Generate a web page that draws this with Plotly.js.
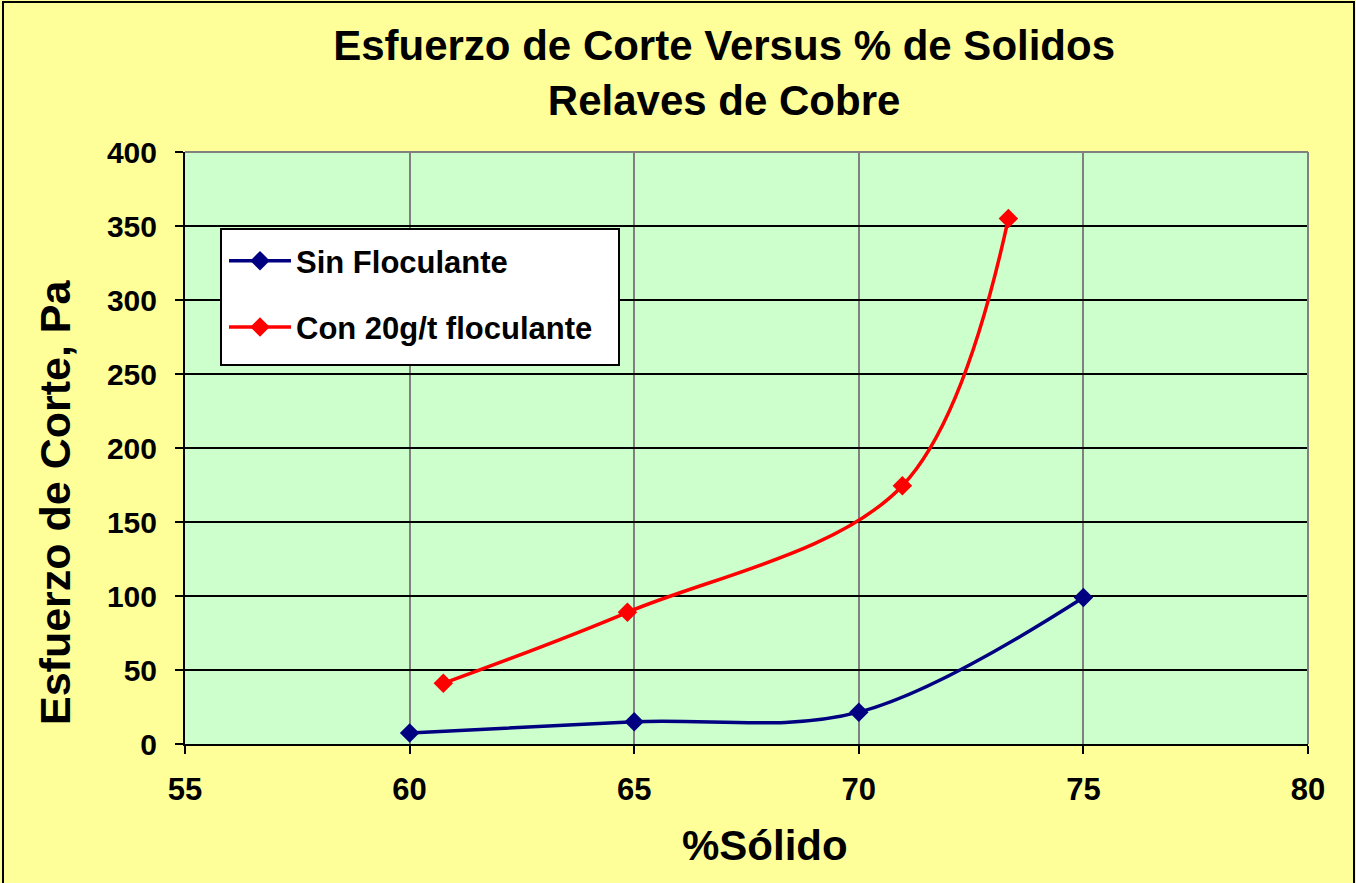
<!DOCTYPE html>
<html>
<head>
<meta charset="utf-8">
<script src="https://cdn.plot.ly/plotly-3.0.1.min.js"></script>
<style>
html,body{margin:0;padding:0;background:#FFFF99;}
#wrap{position:relative;width:1356px;height:883px;overflow:hidden;}
#chart{position:absolute;left:0;top:0;width:1356px;height:883px;}
#frame{position:absolute;left:2px;top:1px;width:1349px;height:890px;border:2px solid #000;pointer-events:none;}
</style>
</head>
<body>
<div id="wrap"><div id="chart"></div><div id="frame"></div></div>
<script>
const sinX = [60, 65, 70, 75];
const sinY = [7.5, 15, 21.5, 99];
const conX = [60.75, 64.85, 70.97, 73.33];
const conY = [41, 89, 174.5, 355];
const xTicks = [55, 60, 65, 70, 75, 80];
const yTicks = [0, 50, 100, 150, 200, 250, 300, 350, 400];

const F = 'Liberation Sans, Arial, sans-serif';

const traces = [
  {x: sinX, y: sinY, name: 'Sin Floculante', type: 'scatter', mode: 'lines+markers',
   line: {color: '#000080', width: 3.5, shape: 'spline', smoothing: 1},
   marker: {symbol: 'diamond', size: 15, color: '#000080'}, legendgroup: 'a'},
  {x: conX, y: conY, name: 'Con 20g/t floculante', type: 'scatter', mode: 'lines+markers',
   line: {color: '#FF0000', width: 3.5, shape: 'spline', smoothing: 1},
   marker: {symbol: 'diamond', size: 15, color: '#FF0000'}, legendgroup: 'b'}
];

const layout = {
  width: 1356, height: 883,
  paper_bgcolor: '#FFFF99', plot_bgcolor: '#CCFFCC',
  margin: {l: 185, r: 48, t: 152, b: 139},
  font: {family: F, color: '#000'},
  title: {text: '<b>Esfuerzo de Corte Versus % de Solidos<br>Relaves de Cobre</b>',
          font: {family: F, size: 42, color: '#000'}, x: 0.534, xanchor: 'center', yref: 'container', y: 0.932, yanchor: 'top'},
  xaxis: {range: [55, 80], tickvals: xTicks, ticktext: xTicks.map(String),
          showgrid: true, gridcolor: '#808080', gridwidth: 2, zeroline: false,
          showline: true, linecolor: '#000', linewidth: 2,
          ticks: 'outside', ticklen: 8, tickwidth: 2, tickcolor: '#000',
          ticklabelstandoff: 9,
          tickfont: {family: F, size: 31, color: '#000', weight: 'bold'}},
  yaxis: {range: [0, 400], tickvals: yTicks, ticktext: yTicks.map(String),
          showgrid: true, gridcolor: '#000', gridwidth: 2, zeroline: false,
          showline: true, linecolor: '#000', linewidth: 2,
          ticks: 'outside', ticklen: 8, tickwidth: 2, tickcolor: '#000',
          ticklabelstandoff: 12,
          tickfont: {family: F, size: 30, color: '#000', weight: 'bold'}},
  annotations: [
    {text: '<b>%Sólido</b>', xref: 'paper', yref: 'paper', x: 0.5 + 18/1123, y: (744 - 845) / 592,
     xanchor: 'center', yanchor: 'middle', showarrow: false, font: {family: F, size: 42, color: '#000'}},
    {text: '<b>Esfuerzo de Corte, Pa</b>', xref: 'paper', yref: 'paper', x: (55 - 185) / 1123, y: (744 - 502) / 592,
     xanchor: 'center', yanchor: 'middle', textangle: -90, showarrow: false, font: {family: F, size: 43, color: '#000'}}
  ],
  shapes: [
    {type: 'line', xref: 'paper', yref: 'paper', x0: 0, x1: 1, y0: 1, y1: 1, line: {color: '#808080', width: 2}},
    {type: 'line', xref: 'paper', yref: 'paper', x0: 1, x1: 1, y0: 0, y1: 1, line: {color: '#808080', width: 2}},
    {type: 'rect', xref: 'paper', yref: 'paper', x0: (221 - 185) / 1123, x1: (619 - 185) / 1123,
     y0: (744 - 365) / 592, y1: (744 - 229) / 592, fillcolor: '#FFFFFF', line: {color: '#000', width: 2}, layer: 'above'}
  ],
  legend: {x: (224 - 185) / 1123, y: (744 - 234) / 592, xanchor: 'left', yanchor: 'top',
           bgcolor: 'rgba(0,0,0,0)', borderwidth: 0,
           font: {family: F, size: 31, color: '#000', weight: 'bold'},
           tracegroupgap: 23, itemwidth: 62},
  showlegend: true
};

Plotly.newPlot('chart', traces, layout, {displayModeBar: false, staticPlot: true});
</script>
</body>
</html>
